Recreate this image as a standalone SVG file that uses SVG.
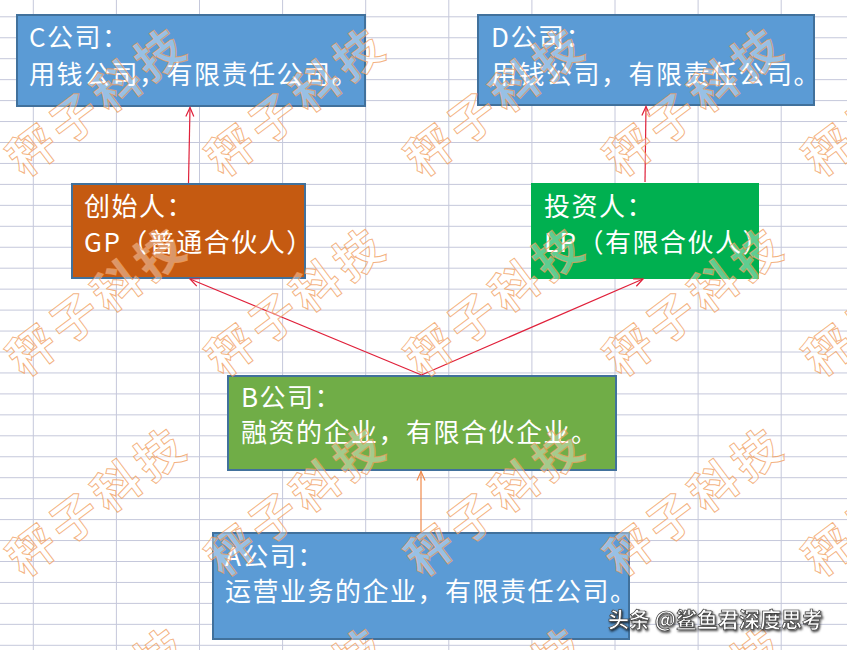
<svg xmlns="http://www.w3.org/2000/svg" xmlns:xlink="http://www.w3.org/1999/xlink" width="847" height="650" viewBox="0 0 847 650">
<style>
.grid line{stroke:#C5C8DB;stroke-width:1}
.box{stroke:#41719C;stroke-width:2}
.lbl{font-family:"Noto Sans CJK SC","Noto Sans",sans-serif;font-size:26px;letter-spacing:1.5px;fill:#FFFFFF}
.conn{fill:none;stroke:#E0203A;stroke-width:1.2}
.conn-o{fill:none;stroke:#F08A4B;stroke-width:1.2}
.wm{font-family:"Noto Sans CJK SC",sans-serif;font-size:47px;font-weight:bold;letter-spacing:6px;fill:#FFFFFF;fill-opacity:0.4;stroke:#F09A58;stroke-width:1;stroke-opacity:0.75}
.credit{font-family:"Noto Sans CJK SC","Noto Sans",sans-serif;font-size:21px;font-weight:bold;fill:#FFFFFF;stroke:#3A3A3A;stroke-width:0.7;filter:url(#shadow)}
</style>
<defs>
<filter id="shadow" x="-10%" y="-30%" width="120%" height="160%">
<feDropShadow dx="1" dy="1.5" stdDeviation="0.8" flood-color="#000000" flood-opacity="0.8"/>
</filter>
<marker id="arr" markerWidth="12" markerHeight="12" refX="10" refY="5" orient="auto" markerUnits="userSpaceOnUse">
<path d="M1,1 L10,5 L1,9" fill="none" stroke="#E0203A" stroke-width="1.2"/>
</marker>
<marker id="arrO" markerWidth="12" markerHeight="12" refX="10" refY="5" orient="auto" markerUnits="userSpaceOnUse">
<path d="M1,1 L10,5 L1,9" fill="none" stroke="#F08A4B" stroke-width="1.2"/>
</marker>
<text id="wmt" class="wm" text-anchor="middle" dominant-baseline="central">秤子科技</text>
</defs>
<rect width="847" height="650" fill="#FFFFFF"/>
<g class="grid">
<line x1="33.3" y1="0" x2="33.3" y2="650"/>
<line x1="116.4" y1="0" x2="116.4" y2="650"/>
<line x1="199.5" y1="0" x2="199.5" y2="650"/>
<line x1="282.6" y1="0" x2="282.6" y2="650"/>
<line x1="365.7" y1="0" x2="365.7" y2="650"/>
<line x1="448.8" y1="0" x2="448.8" y2="650"/>
<line x1="531.9" y1="0" x2="531.9" y2="650"/>
<line x1="615" y1="0" x2="615" y2="650"/>
<line x1="698.1" y1="0" x2="698.1" y2="650"/>
<line x1="781.2" y1="0" x2="781.2" y2="650"/>
<line x1="0" y1="16.8" x2="847" y2="16.8"/>
<line x1="0" y1="37.75" x2="847" y2="37.75"/>
<line x1="0" y1="58.7" x2="847" y2="58.7"/>
<line x1="0" y1="79.65" x2="847" y2="79.65"/>
<line x1="0" y1="100.6" x2="847" y2="100.6"/>
<line x1="0" y1="121.55" x2="847" y2="121.55"/>
<line x1="0" y1="142.5" x2="847" y2="142.5"/>
<line x1="0" y1="163.45" x2="847" y2="163.45"/>
<line x1="0" y1="184.4" x2="847" y2="184.4"/>
<line x1="0" y1="205.35" x2="847" y2="205.35"/>
<line x1="0" y1="226.3" x2="847" y2="226.3"/>
<line x1="0" y1="247.25" x2="847" y2="247.25"/>
<line x1="0" y1="268.2" x2="847" y2="268.2"/>
<line x1="0" y1="289.15" x2="847" y2="289.15"/>
<line x1="0" y1="310.1" x2="847" y2="310.1"/>
<line x1="0" y1="331.05" x2="847" y2="331.05"/>
<line x1="0" y1="352" x2="847" y2="352"/>
<line x1="0" y1="372.95" x2="847" y2="372.95"/>
<line x1="0" y1="393.9" x2="847" y2="393.9"/>
<line x1="0" y1="414.85" x2="847" y2="414.85"/>
<line x1="0" y1="435.8" x2="847" y2="435.8"/>
<line x1="0" y1="456.75" x2="847" y2="456.75"/>
<line x1="0" y1="477.7" x2="847" y2="477.7"/>
<line x1="0" y1="498.65" x2="847" y2="498.65"/>
<line x1="0" y1="519.6" x2="847" y2="519.6"/>
<line x1="0" y1="540.55" x2="847" y2="540.55"/>
<line x1="0" y1="561.5" x2="847" y2="561.5"/>
<line x1="0" y1="582.45" x2="847" y2="582.45"/>
<line x1="0" y1="603.4" x2="847" y2="603.4"/>
<line x1="0" y1="624.35" x2="847" y2="624.35"/>
<line x1="0" y1="645.3" x2="847" y2="645.3"/>
</g>
<g id="node-c">
<rect class="box" x="17" y="15" width="348" height="91" fill="#5B9BD5"/>
<text class="lbl" x="29" y="47">C公司：</text>
<text class="lbl" x="29" y="84">用钱公司，有限责任公司。</text>
</g>
<g id="node-d">
<rect class="box" x="478" y="15" width="336" height="90" fill="#5B9BD5"/>
<text class="lbl" x="491" y="47">D公司：</text>
<text class="lbl" x="491" y="84">用钱公司，有限责任公司。</text>
</g>
<g id="node-gp">
<rect class="box" x="72" y="184" width="233" height="94" fill="#C55A11"/>
<text class="lbl" x="84" y="216">创始人：</text>
<text class="lbl" x="84" y="252">GP（普通合伙人）</text>
</g>
<g id="node-lp">
<rect x="531" y="183" width="228" height="96" fill="#00B050"/>
<text class="lbl" x="544" y="216">投资人：</text>
<text class="lbl" x="544" y="252">LP（有限合伙人）</text>
</g>
<g id="node-b">
<rect class="box" x="228" y="376" width="388" height="94" fill="#70AD47"/>
<text class="lbl" x="241" y="407">B公司：</text>
<text class="lbl" x="241" y="442">融资的企业，有限合伙企业。</text>
</g>
<g id="node-a">
<rect class="box" x="213" y="533" width="416" height="106" fill="#5B9BD5"/>
<text class="lbl" x="225" y="566">A公司：</text>
<text class="lbl" x="225" y="601">运营业务的企业，有限责任公司。</text>
</g>
<g id="connectors">
<line class="conn" x1="188.5" y1="183" x2="190" y2="107.5" marker-end="url(#arr)"/>
<line class="conn" x1="645" y1="182" x2="646" y2="106.5" marker-end="url(#arr)"/>
<line class="conn" x1="421.5" y1="375" x2="190" y2="279" marker-end="url(#arr)"/>
<line class="conn" x1="421.5" y1="375" x2="643" y2="279" marker-end="url(#arr)"/>
<line class="conn-o" x1="421" y1="532" x2="421" y2="471.5" marker-end="url(#arrO)"/>
</g>
<g id="watermark">
<use xlink:href="#wmt" transform="translate(96,98) rotate(-37)"/>
<use xlink:href="#wmt" transform="translate(295,98) rotate(-37)"/>
<use xlink:href="#wmt" transform="translate(494,98) rotate(-37)"/>
<use xlink:href="#wmt" transform="translate(693,98) rotate(-37)"/>
<use xlink:href="#wmt" transform="translate(892,98) rotate(-37)"/>
<use xlink:href="#wmt" transform="translate(96,298) rotate(-37)"/>
<use xlink:href="#wmt" transform="translate(295,298) rotate(-37)"/>
<use xlink:href="#wmt" transform="translate(494,298) rotate(-37)"/>
<use xlink:href="#wmt" transform="translate(693,298) rotate(-37)"/>
<use xlink:href="#wmt" transform="translate(892,298) rotate(-37)"/>
<use xlink:href="#wmt" transform="translate(96,498) rotate(-37)"/>
<use xlink:href="#wmt" transform="translate(295,498) rotate(-37)"/>
<use xlink:href="#wmt" transform="translate(494,498) rotate(-37)"/>
<use xlink:href="#wmt" transform="translate(693,498) rotate(-37)"/>
<use xlink:href="#wmt" transform="translate(892,498) rotate(-37)"/>
<use xlink:href="#wmt" transform="translate(96,698) rotate(-37)"/>
<use xlink:href="#wmt" transform="translate(295,698) rotate(-37)"/>
<use xlink:href="#wmt" transform="translate(494,698) rotate(-37)"/>
<use xlink:href="#wmt" transform="translate(693,698) rotate(-37)"/>
<use xlink:href="#wmt" transform="translate(892,698) rotate(-37)"/>
</g>
<text class="credit" x="608" y="627">头条 @鲨鱼君深度思考</text>
</svg>
